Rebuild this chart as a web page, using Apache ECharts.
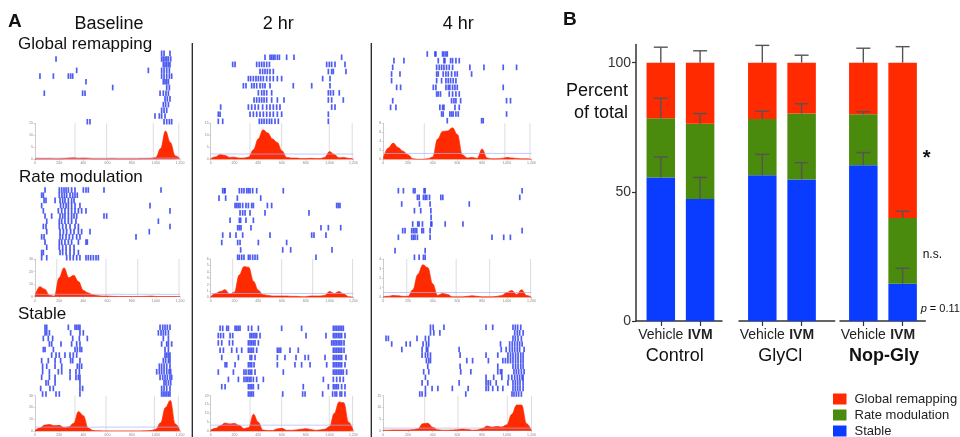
<!DOCTYPE html>
<html><head><meta charset="utf-8">
<script src="https://cdn.jsdelivr.net/npm/echarts@6/dist/echarts.min.js"></script>
<style>html,body{margin:0;padding:0;background:#fff}#c{width:960px;height:437px}</style>
</head><body><div id="c"></div>
<script>
// ---------------- Panel B data ----------------
const groups = ['Control', 'GlyCl', 'Nop-Gly'];
const treatments = ['Vehicle', 'IVM'];
const stable      = [55.6, 47.2, 56.4, 54.8, 60.3, 14.4];
const rateMod     = [22.9, 29.2, 21.8, 25.5, 19.7, 25.5];
const globalRemap = [21.5, 23.6, 21.8, 19.7, 20.0, 60.1];
const stableErr   = [7.9, 8.4, 8.1, 6.5, 4.9, 6.0];
const rateErr     = [7.7, 3.9, 3.0, 3.8, 1.0, 2.6];
const globalErr   = [6.0, 4.6, 6.7, 2.9, 5.6, 6.2];
const yTicksB = [0, 50, 100];
const legendNames = ['Global remapping', 'Rate modulation', 'Stable'];

// ---------------- Panel A data ----------------
const colTitles = ['Baseline', '2 hr', '4 hr'];
const rowTitles = ['Global remapping', 'Rate modulation', 'Stable'];
const histX = [0,40,80,120,160,200,240,280,320,360,400,440,480,520,560,600,640,680,720,760,800,840,880,920,960,1000,1040,1080,1120,1160,1200];

const rasterBaseGlobal = [
 [1048,1068,1117],
 [174,1048,1062,1076,1090,1104,1123],
 [1062,1076,1090,1104,1117],
 [345,938,1048,1068,1090,1112],
 [41,152,276,295,312,1048,1068,1090,1112,1131],
 [422,1062,1076,1090,1104],
 [643,1090,1112],
 [77,394,414,1035,1062,1084,1104],
 [1076,1095,1117],
 [1062,1081,1104],
 [1048,1068,1090],
 [993,1029,1048,1076],
 [433,455,1068,1090,1112,1131]
];
const raster2hrGlobal = [
 [457,499,513,527,541,561,578,639,701,1102],
 [185,205,387,409,429,449,471,494,976,998,1018,1046,1130],
 [415,437,457,477,499,527,990,1018,1032,1138],
 [317,336,359,381,401,421,443,471,499,527,561,597,942,1004],
 [275,297,345,365,387,415,437,457,499,695,850,1004],
 [401,429,449,471,513,990,1009,1032,1082],
 [365,387,409,429,449,471,513,561,617,990,1018,1116],
 [84,317,345,373,401,437,471,499,527,555,583,1018,1046],
 [64,79,331,359,387,415,443,471,499,527,561,597,990],
 [64,101,409,429,449,471,494,513,541,569,990]
];
const raster4hrGlobal = [
 [356,418,426,480,491,507,518],
 [86,167,445,491,499,545,561,588,615],
 [76,432,453,472,491,512,534,561,701,815,971,1079],
 [67,135,432,445,485,507,526,553,580,599,715],
 [67,432,472,507,526,545,566,588],
 [108,140,405,426,507,526,539,561,580,599,971],
 [432,445,463,534,561,588,615],
 [76,553,572,588,626,998,1030],
 [59,102,458,480,491,580,615],
 [472,485,539,553,566,588,607,998],
 [518,796,809]
];
const rasterBaseRate = [
 [83,201,221,240,257,276,303,331,400,422,441,571,1043],
 [55,69,201,223,243,262,290,312,331,350],
 [75,91,166,207,229,248,276,303,323],
 [55,212,235,257,276,303,331,372,952],
 [69,193,221,248,276,303,331,359,386,422,1117],
 [83,138,207,229,248,276,303,323,345,571,593],
 [97,201,221,248,276,303,339,1021],
 [69,91,201,229,257,290,331,359,1117],
 [97,207,235,262,295,323,359,386,455,946],
 [55,75,207,229,257,284,312,345,372,836],
 [83,201,221,248,276,303,359,422,433],
 [97,201,229,257,290,323],
 [55,69,207,229,257,290,323,359],
 [55,97,262,290,317,345,372,422,441,461,483,505,524]
];
const raster2hrRate = [
 [101,115,121,241,261,280,303,317,331,353,387,611],
 [70,126,224,421],
 [205,219,233,247,269,297,317,345,359,477,513,1060,1074,1088],
 [247,269,289,331,457,827],
 [163,241,252,297,359],
 [227,241,255,339,928,990,1094],
 [101,163,213,269,499,850,869,970],
 [93,227,247,401,639],
 [252,606,673,1021],
 [227,241,261,280,317,331,353,373,393,886]
];
const raster4hrRate = [
 [122,163,244,257,330,339,1124],
 [276,290,325,339,352,374,466,482,1105],
 [149,293,379,696],
 [252,303,385],
 [387],
 [238,279,290,317,385,393,501,645],
 [157,176,230,244,257,271,312,325,379,1124],
 [122,230,244,257,276,379,880,975,1029],
 [],
 [95,339],
 [252,290,325,339]
];
const rasterBaseStable = [
 [83,97,276,331,345,359,372,1035,1057,1076,1095,1117],
 [83,97,119,295,372,400,1021,1043,1062,1081,1104],
 [69,110,146,312,367,433,1062,1104],
 [119,138,215,303,345,372,1048,1090,1104,1131],
 [69,83,152,331,350,372,386,1076,1104],
 [138,174,201,248,290,317,345,1076,1090,1104,1117],
 [55,110,166,212,295,312,372,1062,1081,1104,1117],
 [63,97,166,221,350,367,386,1029,1048,1068,1090,1117],
 [63,119,193,221,290,339,367,1007,1029,1048,1068,1090,1110,1123],
 [55,119,166,290,339,359,372,1035,1057,1076,1095,1117,1131],
 [91,110,166,372,1068,1084,1104,1123],
 [47,124,152,372,394,1048,1068,1090,1117],
 [63,91,174,201,372,1048,1062,1076,1090,1104,1117]
];
const raster2hrStable = [
 [79,101,135,149,205,219,233,247,317,345,401,597,765,1032,1046,1060,1074,1088,1102,1116],
 [64,84,107,163,185,331,345,359,373,387,415,802,970,1032,1046,1060,1074,1088,1102,1130],
 [64,93,157,185,317,331,345,359,373,401,1018,1032,1046,1060,1074,1088,1102,1122],
 [79,107,177,219,261,317,331,345,359,387,561,575,589,667,737,1032,1046,1060,1074,1088,1102,1122],
 [93,233,331,345,373,561,625,718,794,822,962,1032,1046,1060,1074,1088,1102,1138],
 [121,135,205,317,331,345,365,561,709,765,836,976,1032,1046,1060,1074,1088,1102,1130],
 [64,191,280,297,317,331,345,373,611,1032,1046,1060,1074,1088,1102,1116,1144],
 [149,233,280,297,311,325,339,359,387,443,948,1032,1060,1088,1116],
 [93,121,317,331,345,359,401,779,990,1032,1046,1060,1074,1102,1130],
 [317,331,345,359,606,774,794,942,1026,1046,1060,1088,1102,1130]
];
const raster4hrStable = [
 [382,404,491,832,886,1050,1069,1088,1113],
 [382,409,458,1064,1085,1104,1132],
 [22,41,273,341,368,1050,1069,1091,1118],
 [68,185,218,322,349,368,949,1023,1044,1064,1085,1104,1124],
 [150,314,349,360,614,955,995,1023,1044,1064,1085,1104,1140],
 [314,341,360,382,622,832,927,1009,1030,1050,1071,1091,1113,1132],
 [349,368,382,676,723,851,968,989,1009,1030,1050,1071,1091,1113,1132],
 [360,622,927,1050,1071,1091,1113,1132],
 [327,368,627,709,927,949,960,1058,1077,1096,1118,1140],
 [341,832,894,960,1014,1041,1064,1085,1104,1124,1132],
 [314,360,614,832,849,867,914,1009,1050,1069,1088,1107,1132],
 [341,395,442,559,687,832,851,886,927,968,1050,1069,1088,1107,1132],
 [295,314,341,668,1042,1058,1077,1096,1118]
];

const histBaseGlobal = [0.2,0.3,0.3,0.3,0.2,0.2,0.3,0.5,0.6,0.4,0.5,0.4,0.2,0.2,0.2,0.2,0.3,0.2,0.2,0.2,0.2,0.2,0.3,0.3,0.4,0.8,4.5,11.8,7,1.5,0.2];
const hist2hrGlobal  = [0.3,1.0,2.0,1.6,0.8,0.9,0.5,0.5,1.0,4,8.5,12.3,11,8.5,7,3.5,0.8,0.5,0.5,0.3,0.3,0.4,0.3,0.3,0.8,3.2,2,0.6,0.8,0.4,0.1];
const hist4hrGlobal  = [0.3,2.5,3.6,2.6,1.8,1.0,0.1,0,0,0.1,0.5,4.5,6.2,6.3,7.0,5.5,1.0,0.3,0.4,0.2,2.3,0.3,0.1,0.1,0.2,0.4,0.3,0.2,0.1,0.1,0];
const histBaseRate   = [0.8,8,6,1.2,0.4,15,23,15,17,12,5,3,1.5,0.8,0.5,0.5,0.3,0.2,0.2,0.1,0.1,0.1,0.2,0.3,0.5,0.2,0.1,0.1,0.1,0.1,0];
const hist2hrRate    = [0.1,0.6,0.9,1.2,0.5,0.8,3.5,4.8,4.7,2.5,1.1,0.4,0.3,0.2,0.2,0.2,0.2,0.15,0.15,0.1,0.1,0.2,0.2,0.2,0.3,0.9,0.6,0.9,0.5,0.1,0];
const hist4hrRate    = [0.05,0.1,0.2,0.15,0.1,0.1,0.8,2.4,3.4,3.1,1.4,0.2,0.4,0.3,0.05,0.05,0.05,0.1,0.15,0.1,0.05,0.05,0.05,0.1,0.2,0.5,0.7,0.3,0.8,0.2,0];
const histBaseStable = [0.5,2.5,5.0,5.5,4.5,4.8,3.0,3.5,6.5,16.5,13,2.5,0.5,0.2,0.1,0.1,0.1,0.1,0.1,0.1,0.1,0.1,0.1,0.2,0.4,1.5,7,20,26,6,0.3];
const hist2hrStable  = [0.5,1.5,3.0,4.5,4.0,4.3,3.2,1.3,2,9.5,5,0.5,0.3,0.3,1.2,1.5,0.4,0.4,0.6,1.0,1.3,0.9,0.4,0.6,1.0,2.5,10,16.5,16,5,0.2];
const hist4hrStable  = [0.2,0.2,0.3,0.3,0.3,0.3,0.4,0.8,3.0,3.2,1.5,0.4,0.2,0.2,0.3,0.4,0.7,0.5,0.2,0.3,0.9,2.0,1.5,1.8,1.6,2.5,7,11,11,3,0];

const zonesBaseGlobal = [331,593,979,1190];
const zones2hrGlobal  = [331,597,998,1191];
const zones4hrGlobal  = [332,984,1187];
const zonesBaseRate   = [180,588,850,1192];
const zones2hrRate    = [185,597,858,1194];
const zones4hrRate    = [190,590,861,1192];
const zonesBaseStable = [331,588,988,1186];
const zones2hrStable  = [331,597,998,1194];
const zones4hrStable  = [335,605,1004,1200];

const histMax      = [15, 15, 8, 30, 6, 4, 30, 20, 15];
const histInterval = [5, 5, 2, 10, 1, 1, 10, 5, 5];
const thresholds   = [0.5, 2.2, 1.3, 1.9, 0.6, 0.5, 3.3, 3.3, 1.1];

// ---------------- build ----------------
const FONT = '"Liberation Sans", Arial, Helvetica, sans-serif';
const RED = '#ff2a00', GREEN = '#4a8a0c', BLUE = '#0a3cff';

const rasters = [rasterBaseGlobal, raster2hrGlobal, raster4hrGlobal, rasterBaseRate, raster2hrRate, raster4hrRate, rasterBaseStable, raster2hrStable, raster4hrStable];
const hists = [histBaseGlobal, hist2hrGlobal, hist4hrGlobal, histBaseRate, hist2hrRate, hist4hrRate, histBaseStable, hist2hrStable, hist4hrStable];
const zones = [zonesBaseGlobal, zones2hrGlobal, zones4hrGlobal, zonesBaseRate, zones2hrRate, zones4hrRate, zonesBaseStable, zones2hrStable, zones4hrStable];

// layout (pixels)
const colBox = [[35, 145], [210.7, 142.6], [383.3, 148.2]];
const histBox = [[123.3,159.3],[123.3,159.3],[123.3,159.3],[259,296.7],[259,297.3],[259,297.3],[395.7,431.7],[395.7,431.7],[395.7,430.7]];
const rasterRows = [[53.3,121.7],[57.3,121.3],[54,120.7],[190,257.7],[190.7,257.3],[190.7,257.3],[327.3,394],[328.3,394],[327.3,394]];

const grid = [], xAxis = [], yAxis = [], series = [];

function addPanel(i) {
  const col = i % 3;
  const [left, width] = colBox[col];
  const gi = grid.length;
  const [ht, hb] = histBox[i];
  grid.push({left: left, top: ht, width: width, height: hb - ht});
  const mx = histMax[i];
  xAxis.push({gridIndex: gi, type: 'value', min: 0, max: 1200, interval: 200,
    axisLine: {show: true, lineStyle: {color: '#f0a8a0', width: 0.7}},
    axisTick: {show: true, length: 1.5, lineStyle: {color: '#aaa', width: 0.5}},
    axisLabel: {fontSize: 3.5, color: '#888', margin: 2, fontFamily: FONT},
    splitLine: {show: false}});
  yAxis.push({gridIndex: gi, type: 'value', min: 0, max: mx, interval: histInterval[i],
    axisLine: {show: true, lineStyle: {color: '#aaa', width: 0.6}},
    axisTick: {show: true, length: 1.5, lineStyle: {color: '#aaa', width: 0.5}},
    axisLabel: {fontSize: 3.5, color: '#888', margin: 2, fontFamily: FONT},
    splitLine: {show: false}});
  series.push({type: 'custom', xAxisIndex: gi, yAxisIndex: gi, z: 1, silent: true,
    data: zones[i].map(z => [z, 0]), encode: {x: 0, y: 1}, clip: false,
    renderItem: (p, api) => {
      const a = api.coord([api.value(0), 0]), b = api.coord([api.value(0), mx]);
      return {type: 'line', shape: {x1: a[0], y1: a[1], x2: b[0], y2: b[1]}, style: {stroke: '#cfcfd4', lineWidth: 0.7}};
    }});
  series.push({type: 'line', xAxisIndex: gi, yAxisIndex: gi, z: 2, silent: true,
    data: histX.map((x, k) => [x, hists[i][k]]), smooth: 0.4, smoothMonotone: 'x',
    showSymbol: false, symbol: 'none', lineStyle: {color: RED, width: 0.7},
    areaStyle: {color: RED, opacity: 1}});
  const thr = thresholds[i];
  series.push({type: 'custom', xAxisIndex: gi, yAxisIndex: gi, z: 3, silent: true,
    data: [[0, thr]], encode: {x: 0, y: 1}, clip: false,
    renderItem: (p, api) => {
      const a = api.coord([0, api.value(1)]), b = api.coord([1200, api.value(1)]);
      return {type: 'line', shape: {x1: a[0], y1: a[1], x2: b[0], y2: b[1]}, style: {stroke: '#a9b3ff', lineWidth: 0.7}};
    }});

  const ri = grid.length;
  const rows = rasters[i], n = rows.length;
  const [y0, y1] = rasterRows[i];
  const s = (y1 - y0) / (n - 1);
  grid.push({left: left, top: y0 - s / 2, width: width, height: n * s});
  xAxis.push({gridIndex: ri, type: 'value', min: 0, max: 1200, show: false});
  yAxis.push({gridIndex: ri, type: 'value', min: -0.5, max: n - 0.5, inverse: true, show: false});
  const pts = [];
  rows.forEach((r, k) => r.forEach(x => pts.push([x, k])));
  series.push({type: 'scatter', xAxisIndex: ri, yAxisIndex: ri, silent: true,
    symbol: 'rect', symbolSize: [1.7, 5.6], data: pts,
    itemStyle: {color: '#2f40f0', opacity: 0.85}});
}
for (let i = 0; i < 9; i++) addPanel(i);

// Panel B
const barGrids = [
  {left: 636, width: 86, min: 0.369, max: 2.557},
  {left: 739, width: 95.7, min: 0.407, max: 2.842},
  {left: 840, width: 85.3, min: 0.407, max: 2.577}
];
const bTop = 44.6, bHeight = 276.4, bMax = 107, BAR_W = 28.5;
const errRender = (p, api) => {
  const x = api.value(0), b = api.value(1), e = api.value(2);
  const a = api.coord([x, b]), t = api.coord([x, b + e]);
  const st = {stroke: '#555', lineWidth: 1.4};
  return {type: 'group', children: [
    {type: 'line', shape: {x1: a[0], y1: a[1], x2: t[0], y2: t[1]}, style: st},
    {type: 'line', shape: {x1: t[0] - 7, y1: t[1], x2: t[0] + 7, y2: t[1]}, style: st}
  ]};
};
const barRender = color => (p, api) => {
  const x = api.value(0), b = api.value(1), v = api.value(2);
  const a = api.coord([x, b]), t = api.coord([x, b + v]);
  return {type: 'rect', shape: {x: a[0] - BAR_W / 2, y: t[1], width: BAR_W, height: a[1] - t[1]}, style: {fill: color}};
};
barGrids.forEach((g, gIdx) => {
  const gi = grid.length;
  grid.push({left: g.left, top: bTop, width: g.width, height: bHeight});
  xAxis.push({gridIndex: gi, type: 'value', min: g.min, max: g.max,
    axisLine: {show: true, lineStyle: {color: '#333', width: 1.5}},
    axisTick: {show: true, customValues: [1, 2], length: 5, inside: false, lineStyle: {color: '#333', width: 1.2}},
    axisLabel: {customValues: [1, 2], margin: 7, color: '#222', fontFamily: FONT, fontSize: 14,
      formatter: v => (Math.round(v) === 2 ? '{b|' : '{n|') + treatments[Math.round(v) - 1] + '}',
      rich: {n: {fontSize: 14, fontFamily: FONT, color: '#222'}, b: {fontSize: 14, fontWeight: 'bold', fontFamily: FONT, color: '#222'}}},
    splitLine: {show: false}});
  yAxis.push({gridIndex: gi, type: 'value', min: 0, max: bMax, show: gIdx === 0,
    axisLine: {show: true, lineStyle: {color: '#333', width: 1.5}},
    axisTick: {show: true, customValues: yTicksB, length: 4, lineStyle: {color: '#333', width: 1.2}},
    axisLabel: {customValues: yTicksB, margin: 5, color: '#333', fontSize: 14, fontFamily: FONT},
    splitLine: {show: false}});
  const idx = [gIdx * 2, gIdx * 2 + 1];
  const comps = [['Stable', stable, BLUE], ['Rate modulation', rateMod, GREEN], ['Global remapping', globalRemap, RED]];
  comps.forEach(([name, arr, color], ci) => {
    series.push({type: 'custom', name: name, xAxisIndex: gi, yAxisIndex: gi, z: 3, silent: true, clip: false,
      itemStyle: {color: color}, encode: {x: 0, y: [1, 2]},
      data: idx.map((d, k) => {
        let base = 0;
        for (let c = 0; c < ci; c++) base += comps[c][1][d];
        return [k + 1, base, arr[d]];
      }),
      renderItem: barRender(color)});
  });
  const errData = [];
  idx.forEach((d, k) => {
    errData.push([k + 1, stable[d], stableErr[d]]);
    errData.push([k + 1, stable[d] + rateMod[d], rateErr[d]]);
    errData.push([k + 1, stable[d] + rateMod[d] + globalRemap[d], globalErr[d]]);
  });
  series.push({type: 'custom', xAxisIndex: gi, yAxisIndex: gi, z: 5, silent: true, clip: false,
    data: errData, encode: {x: 0, y: 1}, renderItem: errRender});
});

function txt(text, x, y, size, opts) {
  opts = opts || {};
  return {type: 'text', silent: true, z: 10, style: Object.assign({
    text: text, x: x, y: y, fontSize: size, fontFamily: FONT, fill: '#111',
    align: opts.align || 'left', textAlign: opts.align || 'left',
    verticalAlign: 'middle', textVerticalAlign: 'middle',
    fontWeight: opts.bold ? 'bold' : 'normal'
  }, opts.extra || {})};
}
const graphics = [
  txt('A', 8, 21.5, 19, {bold: true}),
  txt('B', 563, 20, 19, {bold: true}),
  txt(colTitles[0], 109, 24, 18, {align: 'center'}),
  txt(colTitles[1], 278.3, 24, 18, {align: 'center'}),
  txt(colTitles[2], 458.3, 24, 18, {align: 'center'}),
  txt(rowTitles[0], 18, 44.5, 17),
  txt(rowTitles[1], 19, 177, 17),
  txt(rowTitles[2], 18, 314, 17),
  txt('Percent', 628, 90.7, 18, {align: 'right'}),
  txt('of total', 628, 113.3, 18, {align: 'right'}),
  txt(groups[0], 674.7, 356, 18, {align: 'center'}),
  txt(groups[1], 780.3, 356, 18, {align: 'center'}),
  txt(groups[2], 884, 356, 18, {align: 'center', bold: true}),
  txt('*', 926.7, 158, 20, {align: 'center', bold: true}),
  txt('n.s.', 922.7, 254.3, 12),
  txt('{i|p} = 0.11', 920.7, 308.5, 11, {extra: {rich: {i: {fontStyle: 'italic', fontSize: 11, fontFamily: FONT, fill: '#111'}}}}),
  {type: 'line', silent: true, shape: {x1: 192.3, y1: 43, x2: 192.3, y2: 437}, style: {stroke: '#222', lineWidth: 1.3}},
  {type: 'line', silent: true, shape: {x1: 371.3, y1: 43, x2: 371.3, y2: 437}, style: {stroke: '#222', lineWidth: 1.3}}
];

const chart = echarts.init(document.getElementById('c'), null, {renderer: 'canvas'});
chart.setOption({
  animation: false,
  backgroundColor: '#fff',
  grid: grid, xAxis: xAxis, yAxis: yAxis, series: series,
  legend: {data: legendNames, orient: 'vertical', left: 833, top: 392.5, height: 60, icon: 'rect', padding: 0,
    itemWidth: 13.5, itemHeight: 11, itemGap: 3, selectedMode: false,
    itemStyle: {borderWidth: 0},
    textStyle: {fontSize: 13, lineHeight: 13, color: '#222', fontFamily: FONT, padding: [0, 0, 0, 3]}},
  graphic: graphics
});
</script></body></html>
